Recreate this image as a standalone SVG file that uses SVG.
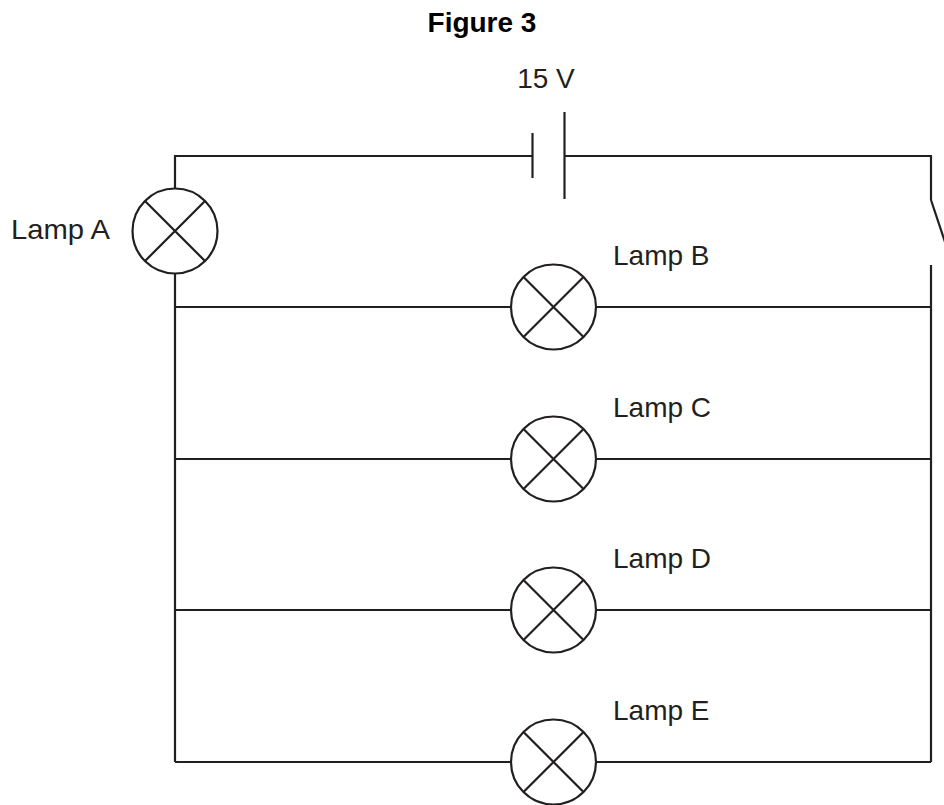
<svg xmlns="http://www.w3.org/2000/svg" width="944" height="805" viewBox="0 0 944 805">
<style>
.w{stroke:#231f20;stroke-width:2.2;fill:none;stroke-linecap:butt}
.lamp{stroke:#231f20;stroke-width:2.2;fill:#fff}
.t{font-family:"Liberation Sans",Arial,sans-serif;font-size:28px;fill:#231f20}
.title{font-family:"Liberation Sans",Arial,sans-serif;font-size:28px;font-weight:bold;fill:#000}
</style>
<defs>
<g id="lampSym">
<circle class="lamp" cx="0" cy="0" r="42.5"/>
<path class="w" d="M-30,-30 L30,30 M-30,30 L30,-30"/>
</g>
</defs>
<rect width="944" height="805" fill="#fff"/>
<text class="title" x="482" y="32" text-anchor="middle">Figure 3</text>
<g id="connectors">
<path class="w" d="M532,156 L175,156 L175,189"/>
<path class="w" d="M564,156 L931,156 L931,200"/>
<path class="w" d="M175,273 L175,762"/>
<path class="w" d="M931,265 L931,762"/>
<path class="w" d="M175,307 L511,307 M596,307 L931,307"/>
<path class="w" d="M175,459 L511,459 M596,459 L931,459"/>
<path class="w" d="M175,610 L511,610 M596,610 L931,610"/>
<path class="w" d="M175,762 L511,762 M596,762 L931,762"/>
</g>
<g id="battery">
<path class="w" d="M532.5,133 L532.5,178"/>
<path class="w" d="M564.5,112 L564.5,199"/>
<text class="t" x="546" y="88" text-anchor="middle">15 V</text>
</g>
<g id="switch">
<path class="w" d="M931,200 L952,263"/>
</g>
<g id="lampA">
<use href="#lampSym" x="175" y="231"/>
<text class="t" x="11" y="239" textLength="99" lengthAdjust="spacingAndGlyphs">Lamp A</text>
</g>
<g id="lampB">
<use href="#lampSym" x="553.5" y="307"/>
<text class="t" x="613" y="265">Lamp B</text>
</g>
<g id="lampC">
<use href="#lampSym" x="553.5" y="459"/>
<text class="t" x="613" y="417">Lamp C</text>
</g>
<g id="lampD">
<use href="#lampSym" x="553.5" y="610"/>
<text class="t" x="613" y="568">Lamp D</text>
</g>
<g id="lampE">
<use href="#lampSym" x="553.5" y="762"/>
<text class="t" x="613" y="720">Lamp E</text>
</g>
</svg>
